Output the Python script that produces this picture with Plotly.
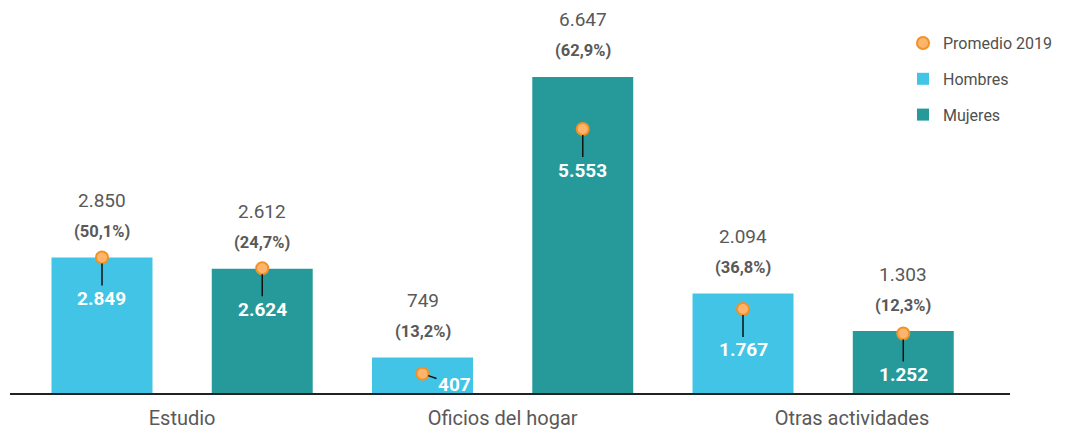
import plotly.graph_objects as go

categories = ["Estudio", "Oficios del hogar", "Otras actividades"]
hombres = [2850, 749, 2094]
mujeres = [2612, 6647, 1303]
pct_hombres = [50.1, 13.2, 36.8]
pct_mujeres = [24.7, 62.9, 12.3]
prom_hombres = [2849, 407, 1767]
prom_mujeres = [2624, 5553, 1252]
label_pos = [0.0, 1.0, 2.09]

C_H = "#41C4E5"
C_M = "#269A9B"
GRAY = "#595959"
FONT = "Roboto"


def fmt_int(v):
    return f"{v:,}".replace(",", ".")


def fmt_pct(p):
    return f"({p:.1f}%)".replace(".", ",")


xs = list(range(len(categories)))
fig = go.Figure()

fig.add_trace(go.Bar(x=xs, y=hombres, name="Hombres", legendgroup="h",
                     marker=dict(color=C_H, line=dict(width=0)), legendrank=2))
fig.add_trace(go.Bar(x=xs, y=mujeres, name="Mujeres", legendgroup="m",
                     marker=dict(color=C_M, line=dict(width=0)), legendrank=3))

off = 0.25
px = [x - off for x in xs] + [x + off for x in xs]
py = prom_hombres + prom_mujeres
fig.add_trace(go.Scatter(
    x=px, y=py, mode="markers", name="Promedio 2019", legendrank=1, legendgroup="p",
    marker=dict(size=12, color="#FDB56E", line=dict(color="#F39125", width=2)),
    hoverinfo="skip"))

annotations = []
for i in xs:
    for sign, vals, pcts, proms in ((-1, hombres, pct_hombres, prom_hombres),
                                    (1, mujeres, pct_mujeres, prom_mujeres)):
        x = i + sign * off
        v = vals[i]
        annotations.append(dict(x=x, y=v, text=fmt_int(v), showarrow=False, yshift=57,
                                font=dict(family=FONT, size=19, color=GRAY)))
        annotations.append(dict(x=x, y=v, text="<b>" + fmt_pct(pcts[i]) + "</b>", showarrow=False,
                                yshift=26, font=dict(family=FONT, size=16.5, color=GRAY)))
        pv = proms[i]
        small = pv < 600
        annotations.append(dict(
            x=x, y=pv, text="<b>" + fmt_int(pv) + "</b>", showarrow=True, arrowhead=0,
            arrowwidth=1.5, arrowcolor="#111111", standoff=6,
            ax=32 if small else 0, ay=11 if small else 41,
            font=dict(family=FONT, size=19, color="white")))

fig.update_layout(
    width=1057, height=421,
    margin=dict(l=2, r=55, t=0, b=36),
    paper_bgcolor="white", plot_bgcolor="white",
    barmode="group", bargap=0.0, bargroupgap=0.37,
    showlegend=True,
    legend=dict(x=0.893, y=0.953, xanchor="left", yanchor="top",
                font=dict(family=FONT, size=16, color="#505050"),
                itemwidth=30, tracegroupgap=12, bgcolor="rgba(0,0,0,0)"),
    annotations=annotations,
    font=dict(family=FONT, color=GRAY),
)
fig.update_xaxes(range=[-0.537, 2.583], tickvals=label_pos, ticktext=categories,
                 showgrid=False, zeroline=False, showline=True, linecolor="#222222", linewidth=1.5,
                 ticks="", ticklabelstandoff=6,
                 tickfont=dict(family=FONT, size=20, color=GRAY), fixedrange=True)
fig.update_yaxes(range=[0, 8098], visible=False, showgrid=False, zeroline=False, fixedrange=True)

fig.write_html("out.html")
